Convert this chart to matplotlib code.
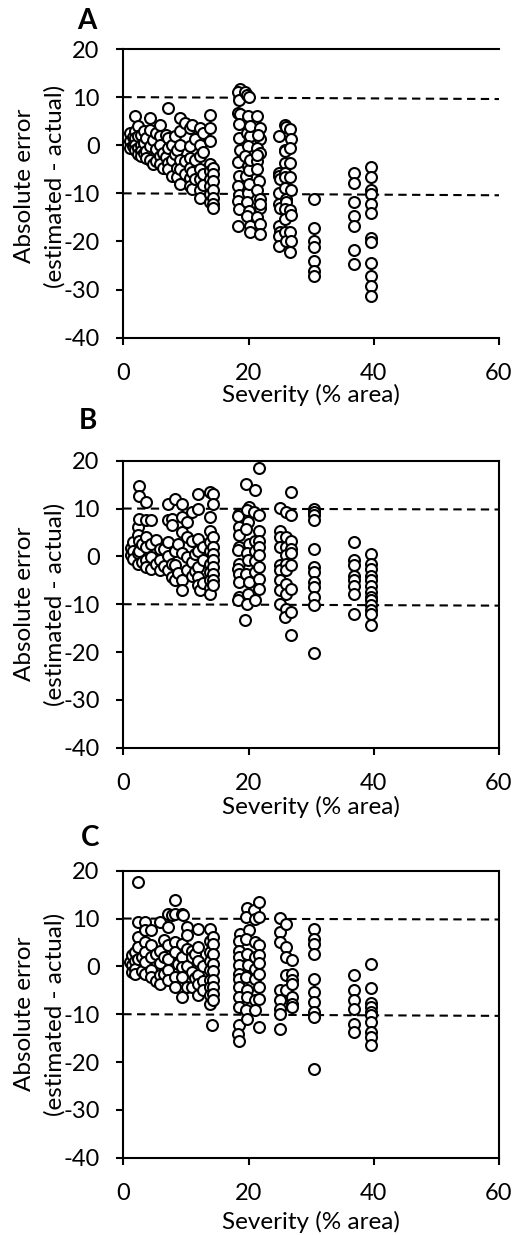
import matplotlib
matplotlib.use("Agg")
import matplotlib.pyplot as plt

plt.rcParams['font.family'] = ['Lato', 'DejaVu Sans']
plt.rcParams['axes.unicode_minus'] = False

# ---- Panel A: severity (% area) and absolute error ----
a_sev = [
    1.1, 1.1, 1.1,
    1.5, 1.5,
    1.9, 1.9, 1.9, 1.9, 1.9,
    2.4, 2.4, 2.4, 2.4,
    2.9, 2.9, 2.9, 2.9,
    3.3, 3.3, 3.3,
    3.7, 3.7, 3.7,
    4.3, 4.3, 4.3, 4.3,
    4.8, 4.8,
    5.2, 5.2, 5.2,
    5.9, 5.9, 5.9, 5.9, 5.9,
    6.4, 6.4,
    6.8, 6.8,
    7.2, 7.2, 7.2, 7.2, 7.2,
    7.7, 7.7, 7.7,
    8.2, 8.2,
    8.5, 8.5, 8.5,
    9.0, 9.0, 9.0, 9.0, 9.0, 9.0,
    9.8, 9.8, 9.8,
    10.6, 10.6, 10.6, 10.6, 10.6, 10.6,
    11.0, 11.0, 11.0,
    11.4, 11.4, 11.4,
    12.2, 12.2, 12.2, 12.2, 12.2, 12.2, 12.2,
    12.8, 12.8, 12.8, 12.8,
    13.8, 13.8, 13.8, 13.8, 13.8, 13.8, 13.8, 13.8, 13.8,
    14.4, 14.4, 14.4, 14.4, 14.4, 14.4, 14.4,
    18.6, 18.3, 18.4, 18.3, 18.6, 18.4, 18.5, 18.6, 18.3, 18.4, 18.3, 18.4, 18.3, 18.4, 18.3,
    19.5, 19.7, 20.0, 19.9, 19.7, 20.2, 19.9, 19.5, 19.9, 19.6, 20.0, 19.9, 19.8, 20.0, 19.7, 20.2, 20.3, 20.0, 20.2, 20.3,
    21.3, 21.8, 21.8, 21.4, 21.9, 21.3, 21.4, 21.6, 21.3, 21.9, 21.9, 21.4, 21.9, 21.9, 21.3, 21.5, 21.8,
    24.9, 24.9, 24.9, 25.0, 24.9, 24.9, 25.0, 24.9, 25.0, 24.9, 24.9,
    25.8, 26.0, 25.8, 25.9, 25.8, 25.8, 25.9, 25.8, 26.0, 26.0, 25.8, 25.9, 25.9, 26.0,
    26.7, 26.8, 26.7, 26.7, 26.7, 26.8, 26.7, 26.8, 26.7, 26.8, 26.7,
    30.4, 30.4, 30.4, 30.4, 30.4, 30.4, 30.4,
    36.9, 36.9, 36.9, 36.9, 36.9, 36.9, 36.9,
    39.5, 39.5, 39.5, 39.5, 39.5, 39.5, 39.5, 39.5, 39.5, 39.5, 39.5, 39.5,
]
a_err = [
    2.5, 0.8, -0.5,
    1.8, -0.2,
    6.0, 2.9, 1.5, 0.0, -0.9,
    3.9, 1.9, -0.5, -1.9,
    2.2, 0.0, -1.2, -2.3,
    3.0, 0.5, -1.6,
    1.5, -1.2, -2.6,
    5.7, 3.2, -0.2, -3.0,
    1.0, -4.0,
    2.6, -0.7, -3.3,
    4.3, 1.9, 0.0, -2.3, -4.0,
    -1.6, -4.7,
    2.2, -2.4,
    7.7, 1.5, -0.6, -3.7, -5.0,
    0.0, -3.0, -6.4,
    1.9, -1.9,
    -1.0, -4.8, -6.6,
    5.7, 2.9, 0.0, -3.0, -5.0, -8.0,
    4.6, -3.3, -6.0,
    3.6, -0.2, -2.6, -4.7, -6.8, -8.5,
    4.2, -5.6, -9.0,
    1.2, -3.0, -7.1,
    3.6, 0.0, -2.3, -5.0, -7.1, -9.2, -10.9,
    2.6, -1.4, -6.0, -8.3,
    6.3, 3.6, 0.8, -4.0, -5.4, -7.1, -8.5, -10.2, -11.9,
    -4.7, -6.0, -7.4, -9.2, -10.9, -12.3, -13.0,
    11.7, 11.0, 9.4, 6.7, 6.5, 4.5, 1.5, -1.0, -3.5, -6.4, -8.5, -10.4, -11.6, -13.3, -16.8,
    11.0, 10.4, 10.0, 6.0, 2.5, 1.9, -0.2, -2.3, -4.3, -6.4, -5.2, -9.9, -11.9, -13.7, -14.7, -16.8, -18.1, -8.0, -3.0, 4.0,
    6.0, 3.6, 1.2, -0.6, -1.6, -3.3, -5.0, -7.4, -9.2, -11.2, -13.0, -15.0, -16.4, -18.5, -2.0, 2.2, -12.2,
    2.0, -5.7, -6.4, -7.1, -9.9, -12.3, -13.0, -16.8, -18.1, -18.8, -20.9,
    4.3, 3.8, -0.9, -1.2, -3.7, -5.7, -6.7, -8.8, -11.2, -11.9, -13.3, -15.4, -18.1, -19.8,
    3.3, 1.2, -0.5, -3.6, -6.7, -9.4, -13.5, -14.5, -18.1, -20.0, -22.2,
    -11.2, -17.1, -19.9, -21.2, -24.0, -26.1, -27.1,
    -5.7, -7.9, -11.9, -14.7, -16.8, -21.8, -24.6,
    -4.5, -6.5, -9.4, -10.2, -12.3, -14.0, -19.2, -20.1, -24.4, -27.1, -29.3, -31.3,
]

# ---- Panel B ----
b_sev = [
    1.2, 1.2,
    1.6, 1.6, 1.6,
    2.4, 2.4, 2.4, 2.4,
    2.5, 2.5, 2.5, 2.5, 2.5,
    3.0, 3.0,
    3.7, 3.7, 3.7, 3.7, 3.7, 3.7,
    4.5, 4.5, 4.5, 4.5,
    5.2, 5.2,
    5.9, 5.9, 5.9,
    6.5, 6.5,
    7.2, 7.2, 7.2, 7.2, 7.2,
    7.7, 7.7, 7.7, 7.7,
    8.2, 8.2, 8.2, 8.2,
    8.7, 8.7,
    9.3, 9.3, 9.3, 9.3, 9.3, 9.3,
    10.1, 10.1, 10.1, 10.1,
    10.9, 10.9, 10.9, 10.9,
    11.5, 11.5,
    12.0, 12.0, 12.0, 12.0, 12.0, 12.0, 12.0,
    12.2,
    12.8, 12.8, 12.8,
    13.8, 13.8, 13.8, 13.8, 13.8, 13.8, 13.8, 13.8, 13.8, 13.8,
    14.4, 14.4, 14.4, 14.4, 14.4, 14.4, 14.4, 14.4, 14.4, 14.4,
    18.5, 18.3, 18.5, 18.4, 18.5, 18.3, 18.5, 18.3, 18.5, 18.4, 18.5, 18.3,
    19.6, 20.1, 19.8, 19.9, 19.6, 20.0, 19.7, 19.9, 19.6, 20.0, 19.9, 19.7, 19.5,
    21.0, 20.9, 21.0, 21.0, 21.0, 21.0, 21.0,
    21.7, 21.7, 21.7, 21.7, 21.7, 21.7, 21.7, 21.7, 21.7,
    25.0, 25.0, 25.0, 25.0, 25.0, 25.0, 25.0, 25.0, 25.0,
    26.0, 26.0, 26.0, 26.0, 26.0, 26.0, 26.0, 26.0, 26.0, 25.8,
    26.8, 26.8, 26.8, 26.8, 26.8, 26.8, 26.8, 26.8, 26.8,
    30.5, 30.5, 30.5, 30.5, 30.5, 30.5, 30.5, 30.5, 30.5, 30.5, 30.5, 30.5,
    36.9, 36.9, 36.9, 36.9, 36.9, 36.9, 36.9, 36.9,
    39.6, 39.6, 39.6, 39.6, 39.6, 39.6, 39.6, 39.6, 39.6, 39.6, 39.6, 39.6, 39.6,
]
b_err = [
    1.8, 0.2,
    3.0, 1.2, -0.5,
    6.1, 4.4, 0.6, -1.5,
    14.8, 12.7, 7.8, 3.3, 1.2,
    2.5, -1.2,
    11.3, 7.5, 4.0, 1.9, -0.8, -2.2,
    7.5, 2.6, -0.1, -2.6,
    3.5, -1.5,
    1.6, -0.8, -2.9,
    1.5, -2.0,
    11.0, 7.5, 3.0, 0.0, -2.9,
    7.8, 6.5, -1.5, -4.3,
    12.0, 1.2, -1.9, -5.0,
    2.5, -3.5,
    11.0, 8.2, 5.1, 0.6, -5.0, -7.1,
    7.2, 4.0, -0.1, -2.9,
    9.2, 3.3, -1.2, -4.0,
    0.5, -3.0,
    13.0, 9.9, 3.7, 1.2, -2.2, -4.3, -6.0,
    -7.1,
    2.0, -0.8, -5.5,
    13.4, 8.2, 5.4, 3.0, 1.2, -1.5, -3.3, -5.0, -6.7, -7.8,
    13.0, 11.0, 4.0, 1.9, 0.5, -0.8, -2.2, -3.6, -5.0, -6.0,
    8.9, 8.5, 6.1, 4.4, 2.0, 1.3, -1.5, -2.6, -3.6, -5.4, -8.5, -9.2,
    15.2, 10.3, 9.6, 7.2, 5.8, 2.6, 0.6, -0.8, -3.6, -5.4, -7.8, -9.9, -13.4,
    13.9, 9.3, 3.3, 1.2, -1.0, -3.3, -9.2,
    18.5, 8.6, 5.4, 3.3, 2.0, 0.2, -2.2, -4.7, -6.8,
    10.2, 5.4, 4.0, 2.0, -1.9, -2.9, -5.0, -7.1, -9.9,
    9.3, 4.0, 2.0, 0.3, -1.5, -2.9, -5.7, -7.8, -10.9, -12.7,
    13.4, 8.6, 3.3, 1.6, 0.6, -1.9, -6.8, -11.6, -16.5,
    10.0, 9.3, 8.6, 7.5, 1.6, -2.2, -3.3, -5.4, -6.4, -8.5, -10.2, -20.3,
    3.0, -0.8, -1.9, -4.0, -5.0, -6.1, -7.8, -12.0,
    0.4, -1.5, -2.6, -4.0, -5.0, -6.1, -7.5, -8.5, -9.2, -10.2, -11.3, -12.0, -14.4,
]

# ---- Panel C ----
c_sev = [
    1.0,
    1.4, 1.4, 1.4,
    1.9, 1.9, 1.9, 1.9,
    2.4, 2.4, 2.4, 2.4, 2.4,
    3.0, 3.0,
    3.5, 3.5, 3.5, 3.5, 3.5, 3.5,
    4.5, 4.5, 4.5, 4.5, 4.5,
    5.2, 5.2,
    5.9, 5.9, 5.9, 5.9, 5.9,
    6.5, 6.5, 6.5,
    7.2, 7.2, 7.2, 7.2, 7.2, 7.2,
    7.7,
    8.2, 8.2, 8.2, 8.2, 8.2, 8.2,
    8.7,
    9.3, 9.3, 9.3, 9.3, 9.3, 9.3,
    9.6,
    10.1, 10.1, 10.1, 10.1, 10.1,
    10.9, 10.9, 10.9, 10.9,
    11.5, 11.5,
    12.0, 12.0, 12.0, 12.0, 12.0, 12.0,
    12.8, 12.8, 12.8,
    13.8, 13.8, 13.8, 13.8, 13.8, 13.8, 13.8, 13.8, 13.8,
    14.2,
    14.4, 14.4, 14.4, 14.4, 14.4, 14.4, 14.4, 14.4, 14.4,
    18.6, 18.5, 18.4, 18.5, 18.5, 18.4, 18.5, 18.5, 18.4, 18.5, 18.5, 18.3, 18.5,
    19.8, 19.6, 20.0, 19.6, 19.8, 19.9, 19.6, 19.8, 19.7, 19.6, 19.8,
    20.9, 21.0, 21.0, 21.0, 21.0, 21.0, 21.0, 21.0,
    21.7, 21.7, 21.7, 21.7, 21.7, 21.7, 21.7, 21.7, 21.7,
    25.0, 25.0, 25.0, 25.0, 25.0, 25.0, 25.0, 25.0,
    26.0, 26.0, 26.0, 26.0, 26.0,
    26.9, 26.9, 26.9, 26.9, 26.9, 26.9, 26.9,
    30.5, 30.5, 30.5, 30.5, 30.5, 30.5, 30.5, 30.5, 30.5, 30.5,
    36.9, 36.9, 36.9, 36.9, 36.9, 36.9,
    39.6, 39.6, 39.6, 39.6, 39.6, 39.6, 39.6, 39.6, 39.6, 39.6,
]
c_err = [
    1.0,
    2.3, 0.3, -1.2,
    3.0, 1.2, -0.5, -1.5,
    17.6, 9.2, 6.1, 4.0, 1.6,
    2.0, -1.0,
    9.2, 7.5, 5.1, 3.0, 0.9, -1.5,
    7.5, 4.4, 1.9, -0.8, -2.2,
    2.5, -3.0,
    9.2, 3.3, 0.6, -1.9, -3.6,
    5.5, 2.0, -1.5,
    11.0, 8.2, 4.4, 1.6, -0.8, -2.9,
    10.7,
    13.8, 11.0, 5.1, 3.0, -2.2, -4.3,
    0.5,
    11.0, 4.7, 1.9, -0.1, -2.2, -6.4,
    10.7,
    8.2, 6.5, 3.7, 0.0, -4.3,
    3.3, 1.9, -1.2, -4.3,
    2.5, -2.5,
    7.8, 4.0, 1.2, -1.9, -3.6, -6.0,
    0.0, -3.0, -5.0,
    7.8, 5.4, 3.0, 1.2, -0.8, -2.9, -4.3, -6.0, -7.8,
    -12.3,
    6.1, 4.7, 2.6, 0.5, -1.0, -2.9, -4.3, -5.7, -7.1,
    6.8, 5.4, 3.3, 2.0, 0.2, -1.5, -2.6, -4.3, -6.4, -8.5, -12.3, -14.1, -15.5,
    12.1, 10.3, 7.5, 5.8, 2.6, 0.2, -2.2, -5.0, -6.4, -9.2, -10.9,
    11.7, 10.0, 5.1, 2.0, -0.5, -2.6, -7.1, -9.2,
    13.4, 10.3, 4.4, 2.3, 0.6, -1.5, -4.3, -6.8, -12.7,
    10.2, 7.2, 5.1, -5.0, -7.1, -8.9, -9.9, -13.0,
    8.9, 4.0, 2.0, -1.9, -5.0,
    1.3, -1.5, -2.9, -3.6, -6.4, -7.8, -8.5,
    7.9, 5.8, 4.7, 2.6, -2.6, -5.4, -7.5, -9.5, -10.6, -21.4,
    -1.9, -5.0, -7.1, -8.9, -12.0, -13.7,
    0.4, -4.5, -7.7, -8.5, -9.5, -10.2, -11.6, -13.7, -14.8, -16.5,
]

# +/-10 reference lines, values at severity 0 and 60
a_upper, a_lower = [10.0, 9.6], [-10.0, -10.4]
b_upper, b_lower = [10.0, 9.8], [-10.0, -10.3]
c_upper, c_lower = [10.0, 9.8], [-10.0, -10.35]

x_ticks = [0, 20, 40, 60]
y_ticks = [-40, -30, -20, -10, 0, 10, 20]
panel_letters = ["A", "B", "C"]
x_title = "Severity (% area)"
y_title_lines = ["Absolute error", "(estimated - actual)"]

W, H = 517, 1235
fig = plt.figure(figsize=(W / 100, H / 100), dpi=100)

AX_L, AX_R = 123.3, 499.0
panels = [
    # sev, err, upper, lower, top px, bottom px, right spine, letter pos, ylabel center, xlabel y
    (a_sev, a_err, a_upper, a_lower, 49.0, 337.7, False, (87, 21), 186, 395),
    (b_sev, b_err, b_upper, b_lower, 460.7, 747.7, True, (88, 421), 604, 807),
    (c_sev, c_err, c_upper, c_lower, 870.7, 1157.7, True, (90, 838), 1014, 1222),
]

FS = 17
LFS = 17.5
for letter, (sev, err, up, lo, top, bot, rspine, lpos, ylc, xly) in zip(panel_letters, panels):
    assert len(sev) == len(err)
    ax = fig.add_axes([AX_L / W, 1 - bot / H, (AX_R - AX_L) / W, (bot - top) / H])
    ax.plot([0, 60], up, color="black", lw=1.5, dashes=(4, 2.6), zorder=2)
    ax.plot([0, 60], lo, color="black", lw=1.5, dashes=(4, 2.6), zorder=2)
    ax.scatter(sev, err, s=62, facecolor="white", edgecolor="black",
               linewidth=1.5, zorder=3, clip_on=False)
    ax.set_xlim(0, 60)
    ax.set_ylim(-40, 20)
    ax.set_xticks(x_ticks)
    ax.set_yticks(y_ticks)
    for side in ["left", "bottom", "top", "right"]:
        ax.spines[side].set_linewidth(1.5)
        ax.spines[side].set_color("black")
    ax.spines["right"].set_visible(rspine)
    ax.tick_params(axis="both", direction="out", length=5, width=1.5,
                   labelsize=FS, colors="black")
    ax.tick_params(axis="x", pad=13)
    ax.tick_params(axis="y", pad=12)
    ax.patch.set_alpha(0)

    fig.text(lpos[0] / W, 1 - lpos[1] / H, letter, fontsize=20,
             fontweight="bold", ha="center", va="center")
    for xpos, line in zip([25, 55], y_title_lines):
        fig.text(xpos / W, 1 - ylc / H, line, rotation=90, fontsize=LFS,
                 ha="center", va="center")
    fig.text((AX_L + AX_R) / 2 / W, 1 - xly / H, x_title, fontsize=LFS,
             ha="center", va="center")

fig.savefig("out.png", dpi=100)
